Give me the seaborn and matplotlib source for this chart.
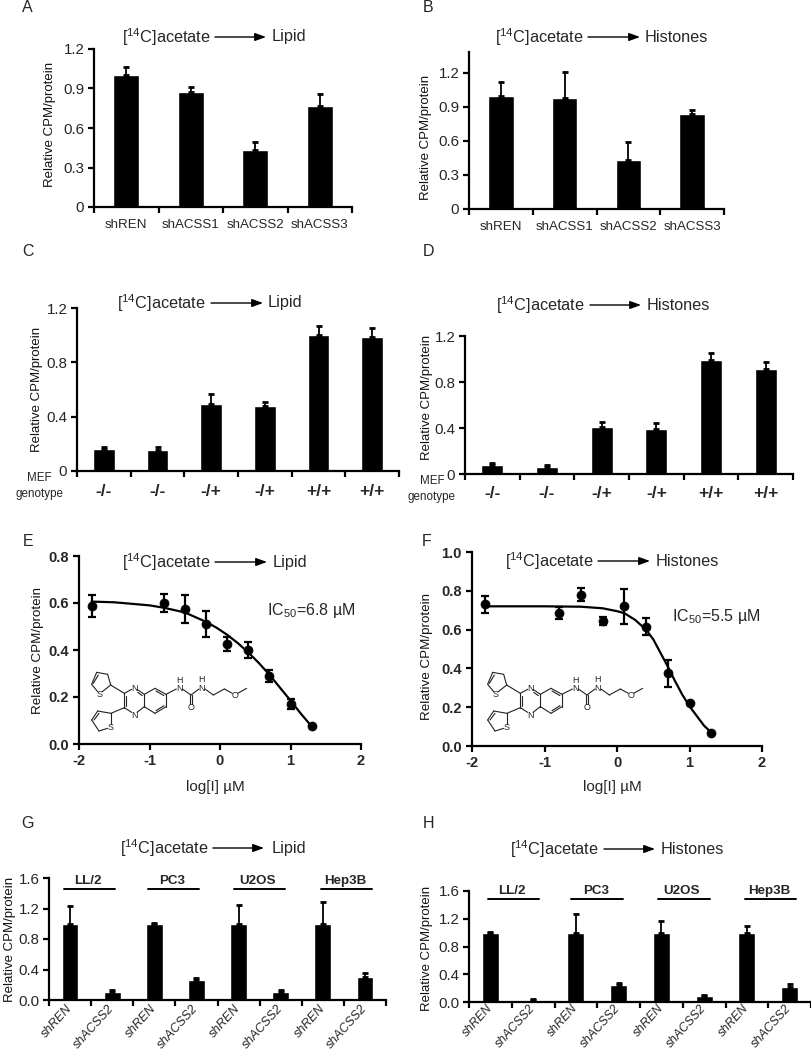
import numpy as np
import pandas as pd
import matplotlib
matplotlib.use('Agg')
import matplotlib.pyplot as plt
import seaborn as sns

W, H = 811, 1050

# panels A, B
sh_labels = ['shREN', 'shACSS1', 'shACSS2', 'shACSS3']
a_vals = [1.0, 0.875, 0.43, 0.77]
a_tops = [1.06, 0.91, 0.49, 0.855]
b_vals = [1.0, 0.98, 0.43, 0.84]
b_tops = [1.12, 1.21, 0.59, 0.875]

# panels C, D
mef_labels = ['-/-', '-/-', '-/+', '-/+', '+/+', '+/+']
c_vals = [0.16, 0.155, 0.49, 0.475, 1.0, 0.985]
c_tops = [0.175, 0.18, 0.57, 0.505, 1.07, 1.05]
d_vals = [0.08, 0.065, 0.41, 0.39, 0.99, 0.915]
d_tops = [0.095, 0.075, 0.455, 0.44, 1.055, 0.975]

# panels E, F
dose = [-1.82, -0.8, -0.5, -0.2, 0.1, 0.4, 0.7, 1.0, 1.3]
e_vals = [0.587, 0.60, 0.575, 0.51, 0.425, 0.40, 0.29, 0.17, 0.075]
e_errs = [0.045, 0.04, 0.06, 0.055, 0.03, 0.035, 0.025, 0.02, 0.0]
f_vals = [0.73, 0.685, 0.78, 0.645, 0.72, 0.615, 0.375, 0.22, 0.065]
f_errs = [0.045, 0.03, 0.035, 0.02, 0.09, 0.045, 0.07, 0.0, 0.0]
e_curve_x = [-1.82, -1.5, -1.0, -0.8, -0.5, -0.35, -0.2, -0.05, 0.1, 0.25, 0.4, 0.55, 0.7, 0.85, 1.0, 1.15, 1.3]
e_curve_y = [0.606, 0.603, 0.59, 0.58, 0.56, 0.54, 0.52, 0.495, 0.465, 0.43, 0.39, 0.345, 0.295, 0.24, 0.185, 0.128, 0.075]
f_curve_x = [-1.82, -1.0, -0.5, -0.2, 0.0, 0.1, 0.25, 0.4, 0.5, 0.6, 0.7, 0.8, 0.9, 1.0, 1.1, 1.2, 1.3]
f_curve_y = [0.72, 0.72, 0.718, 0.71, 0.695, 0.685, 0.65, 0.60, 0.55, 0.48, 0.41, 0.335, 0.265, 0.205, 0.155, 0.105, 0.07]

# panels G, H
pair_labels = ['shREN', 'shACSS2'] * 4
lines = ['LL/2', 'PC3', 'U2OS', 'Hep3B']
g_vals = [1.0, 0.11, 1.0, 0.26, 1.0, 0.10, 1.0, 0.30]
g_tops = [1.23, 0.135, 1.015, 0.285, 1.24, 0.135, 1.29, 0.355]
h_vals = [1.0, 0.035, 1.0, 0.25, 1.0, 0.085, 1.0, 0.21]
h_tops = [1.005, 0.05, 1.27, 0.27, 1.17, 0.10, 1.09, 0.26]

sns.set_theme(style='ticks')
plt.rcParams['font.family'] = 'Liberation Sans'
plt.rcParams['mathtext.fontset'] = 'custom'
plt.rcParams['mathtext.rm'] = 'Liberation Sans'
plt.rcParams['mathtext.default'] = 'rm'
plt.rcParams['axes.unicode_minus'] = False

fig = plt.figure(figsize=(W / 100, H / 100), dpi=100, facecolor='white')
ov = fig.add_axes([0, 0, 1, 1], zorder=5)
ov.set_xlim(0, W)
ov.set_ylim(H, 0)
ov.axis('off')


def px_axes(left, right, top, bottom):
    ax = fig.add_axes([left / W, 1 - bottom / H, (right - left) / W, (bottom - top) / H])
    ax.patch.set_alpha(0)
    sns.despine(ax=ax)
    for s in ['left', 'bottom']:
        ax.spines[s].set_linewidth(1.6)
        ax.spines[s].set_color('black')
    return ax


def bar_panel(box, labels, vals, tops, ylim, yticks, label_xy, tick_fs, pad=9, **tick_kw):
    ax = px_axes(*box)
    df = pd.DataFrame({'pos': np.arange(len(vals)), 'val': vals})
    sns.barplot(data=df, x='pos', y='val', color='black', saturation=1, width=0.4, ax=ax, errorbar=None)
    for i, (v, t) in enumerate(zip(vals, tops)):
        ax.errorbar(i, v, yerr=[[0], [t - v]], color='black', lw=1.3, capsize=2, capthick=2, zorder=4, clip_on=False)
    ax.set_xlim(-0.5, len(vals) - 0.5)
    ax.set_ylim(*ylim)
    ax.set_xticks(np.arange(len(vals) + 1) - 0.5)
    ax.set_xticklabels([])
    ax.set_xticks(np.arange(len(vals)), minor=True)
    ax.set_xticklabels(labels, minor=True, **tick_kw)
    ax.tick_params(axis='x', which='major', length=4, width=1.6, color='black')
    ax.tick_params(axis='x', which='minor', length=0, labelsize=tick_fs, pad=pad)
    ax.set_yticks(yticks)
    ax.set_yticklabels(['0' if y == 0 and max(yticks) < 1.5 else f'{y:.1f}' for y in yticks], fontsize=10.8)
    ax.tick_params(axis='y', length=4, width=1.6, color='black', pad=3)
    ax.set_xlabel('')
    ax.set_ylabel('Relative CPM/protein', fontsize=9.5, color='#111111')
    ax.yaxis.set_label_coords(label_xy[0], label_xy[1], transform=ov.transData)
    return ax


def dose_panel(box, vals, errs, curve_x, curve_y, ylim, yticks, label_xy, xlabel_xy):
    ax = px_axes(*box)
    sns.lineplot(x=curve_x, y=curve_y, color='black', lw=1.6, ax=ax, errorbar=None, sort=False)
    ax.errorbar(dose, vals, yerr=errs, fmt='none', ecolor='black', elinewidth=1.6, capsize=3.2, capthick=1.6, clip_on=False)
    sns.scatterplot(x=dose, y=vals, color='black', s=42, edgecolor='black', ax=ax, clip_on=False, zorder=5)
    ax.set_xlim(-2, 2)
    ax.set_ylim(*ylim)
    ax.set_xticks([-2, -1, 0, 1, 2])
    ax.set_yticks(yticks)
    ax.set_yticklabels([f'{y:.1f}' for y in yticks])
    ax.tick_params(length=4.5, width=1.6, color='black', labelsize=10.5, pad=3)
    for t in ax.get_xticklabels() + ax.get_yticklabels():
        t.set_fontweight('bold')
    ax.set_xlabel('log[I] µM', fontsize=11)
    ax.xaxis.set_label_coords(xlabel_xy[0], xlabel_xy[1], transform=ov.transData)
    ax.set_ylabel('Relative CPM/protein', fontsize=9.6, color='#111111')
    ax.yaxis.set_label_coords(label_xy[0], label_xy[1], transform=ov.transData)
    return ax


def flow_title(x0, x_arrow0, x_arrow1, x_end, y, target):
    ov.text(x0, y, '[$^{14}$C]acetate', fontsize=11.7, va='center', ha='left')
    ov.annotate('', xy=(x_arrow1, y), xytext=(x_arrow0, y),
                arrowprops=dict(arrowstyle='-|>,head_length=0.55,head_width=0.2', color='black', lw=1, shrinkA=0, shrinkB=0))
    ov.text(x_end, y, target, fontsize=11.7, va='center', ha='left')


# rings and chain of the inhibitor, in pixels from the top left of the drawing (x3)
bonds = [((35, 22), (68, 28)), ((68, 28), (77, 60)), ((77, 60), (52, 80)), ((38, 80), (20, 58)), ((20, 58), (35, 22)),
         ((40, 30), (25, 55)), ((77, 60), (118, 85)),
         ((78, 145), (38, 138)), ((38, 138), (20, 165)), ((20, 165), (42, 198)), ((42, 198), (68, 190)), ((78, 176), (78, 145)),
         ((42, 145), (27, 165)), ((78, 145), (118, 128)),
         ((118, 85), (140, 73)), ((156, 73), (178, 88)), ((178, 88), (178, 125)), ((178, 125), (156, 142)),
         ((140, 142), (118, 128)), ((118, 128), (118, 85)), ((124, 92), (124, 122)), ((172, 92), (158, 82)),
         ((178, 88), (210, 70)), ((210, 70), (243, 88)), ((243, 88), (243, 125)), ((243, 125), (210, 145)),
         ((210, 145), (178, 125)), ((213, 78), (237, 92)), ((237, 122), (213, 137)),
         ((243, 88), (274, 72)), ((292, 72), (318, 90)), ((315, 90), (315, 116)), ((321, 90), (321, 116)),
         ((318, 90), (342, 72)), ((360, 72), (385, 90)), ((385, 90), (418, 72)), ((418, 72), (442, 85)), ((458, 85), (485, 70))]
atoms = [('S', 45, 88), ('S', 78, 187), ('N', 148, 70), ('N', 148, 150), ('N', 283, 70), ('H', 283, 46),
         ('N', 350, 70), ('H', 350, 45), ('O', 318, 128), ('O', 450, 90)]


def molecule(x0, y0):
    for (a, b) in bonds:
        ov.plot([x0 + a[0] / 3, x0 + b[0] / 3], [y0 + a[1] / 3, y0 + b[1] / 3], color='#222222', lw=0.8, solid_capstyle='round')
    for s, x, y in atoms:
        ov.text(x0 + x / 3, y0 + y / 3, s, fontsize=6.4, ha='center', va='center', color='#222222')
    ov.set_xlim(0, W)
    ov.set_ylim(H, 0)


bar_panel((94, 352, 49, 207), sh_labels, a_vals, a_tops, (0, 1.2), [0, 0.3, 0.6, 0.9, 1.2], (56, 124), 9.6)
bar_panel((469, 724, 52, 209), sh_labels, b_vals, b_tops, (0, 1.385), [0, 0.3, 0.6, 0.9, 1.2], (432, 137), 9.6)
bar_panel((77, 399, 308, 471), mef_labels, c_vals, c_tops, (0, 1.2), [0, 0.4, 0.8, 1.2], (43, 389), 12.5, fontweight='bold')
bar_panel((465, 793, 336, 474), mef_labels, d_vals, d_tops, (0, 1.2), [0, 0.4, 0.8, 1.2], (433, 397), 12.5, fontweight='bold')

dose_panel((79, 361, 556, 744), e_vals, e_errs, e_curve_x, e_curve_y, (0, 0.8), [0, 0.2, 0.4, 0.6, 0.8], (44, 650), (215, 780))
dose_panel((472, 762, 552, 746), f_vals, f_errs, f_curve_x, f_curve_y, (0, 1.0), [0, 0.2, 0.4, 0.6, 0.8, 1.0], (433, 657), (612, 780))

bar_panel((49, 386, 878, 1000), pair_labels, g_vals, g_tops, (0, 1.6), [0, 0.4, 0.8, 1.2, 1.6], (16, 939), 9, pad=5,
          style='italic', rotation=48, ha='right', va='center', rotation_mode='anchor')
bar_panel((469, 811, 891, 1002), pair_labels, h_vals, h_tops, (0, 1.6), [0, 0.4, 0.8, 1.2, 1.6], (433, 948), 8.8, pad=3,
          style='italic', rotation=48, ha='right', va='center', rotation_mode='anchor')

# cell line headers above G and H
for name, x, x0, x1 in zip(lines, [88, 172, 258, 345], [64, 148, 234, 321], [115, 199, 285, 372]):
    ov.text(x, 881, name, fontsize=9.6, fontweight='bold', ha='center', va='center')
    ov.plot([x0, x1], [889, 889], color='black', lw=1.4)
for name, x, x0, x1 in zip(lines, [512, 596, 681, 769], [488, 571, 658, 745], [539, 623, 710, 796]):
    ov.text(x, 891, name, fontsize=9.6, fontweight='bold', ha='center', va='center')
    ov.plot([x0, x1], [899, 899], color='black', lw=1.4)

# MEF row labels
for x, y1, y2 in [(39, 478, 494), (432, 481, 497)]:
    ov.text(x, y1, 'MEF', fontsize=8.4, ha='center', va='center')
    ov.text(x, y2, 'genotype', fontsize=8.4, ha='center', va='center')

flow_title(122, 215, 266, 272, 37, 'Lipid')
flow_title(495, 588, 640, 645, 37, 'Histones')
flow_title(117, 211, 263, 268, 303, 'Lipid')
flow_title(496, 590, 641, 647, 305, 'Histones')
flow_title(120, 213, 264, 272, 848, 'Lipid')
flow_title(510, 604, 655, 661, 849, 'Histones')
flow_title(122, 215, 267, 273, 562, 'Lipid')
flow_title(505, 598, 650, 656, 561, 'Histones')

ov.text(267, 610, 'IC$_{50}$=6.8 µM', fontsize=11.5, va='center', ha='left')
ov.text(672, 616, 'IC$_{50}$=5.5 µM', fontsize=11.5, va='center', ha='left')

molecule(85, 665)
molecule(481, 665)

for letter, x, y in [('A', 27, 8), ('B', 428, 7), ('C', 28, 252), ('D', 428, 252), ('E', 28, 541), ('F', 427, 541), ('G', 28, 824), ('H', 428, 824)]:
    ov.text(x, y, letter, fontsize=11.5, ha='center', va='center')

fig.savefig('out.png', dpi=100, facecolor='white')
